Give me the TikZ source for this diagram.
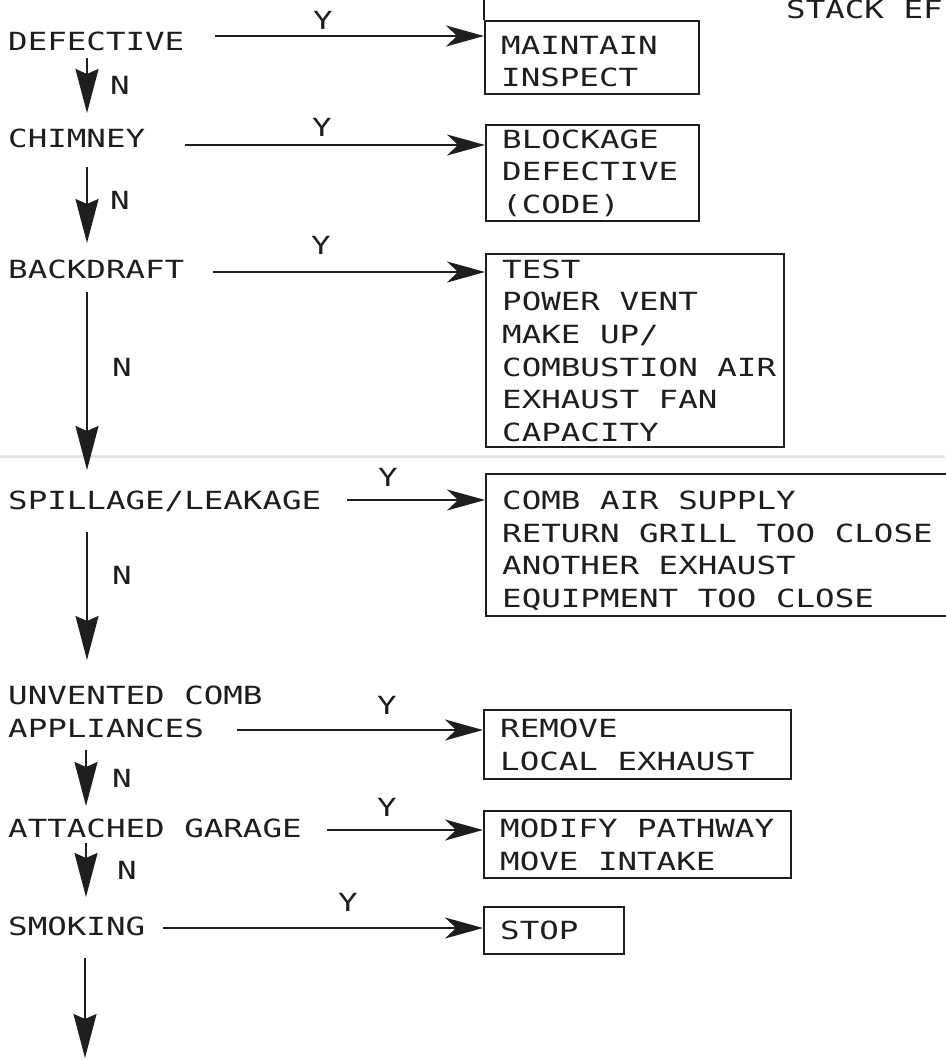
\documentclass[tikz,border=0pt]{standalone}
\usepackage{fontspec}
\newfontfamily\plotfont[FakeStretch=1.3]{DejaVu Sans Mono}
\usetikzlibrary{arrows.meta}
\definecolor{ink}{HTML}{1E1E1E}
\newcommand\bxl[1]{\mbox{\spaceskip=0pt\xspaceskip=0pt\relax #1}}
\begin{document}
\begin{tikzpicture}[x=1pt,y=-1pt,
  lbl/.style={font=\plotfont\fontsize{25}{32.7}\selectfont, inner sep=0pt, text=ink},
  cond/.style={lbl, anchor=base west, align=left},
  yn/.style={lbl, anchor=center},
  boxnode/.style={lbl, draw=ink, line width=2.4pt, anchor=north west, align=left,
    inner xsep=16pt, inner ysep=0pt},
  harrow/.style={draw=ink, line width=2pt, -{Stealth[length=38pt,width=21pt,inset=11pt]}},
  varrow/.style={draw=ink, line width=2pt, -{Stealth[length=44pt,width=23pt,inset=5pt]}},
  boxline/.style={draw=ink, line width=2.4pt}
]
\useasboundingbox[fill=white] (0,0) rectangle (945,1060);
% scan artefact
\draw[black!10, line width=3pt] (0,456) -- (945,456);

% top-right text
\node[cond] (stack) at (786,18) {STACK EF};

% conditions
\node[cond] (q1) at (8,50) {DEFECTIVE};
\node[cond] (q2) at (8,147) {CHIMNEY};
\node[cond] (q3) at (8,278) {BACKDRAFT};
\node[cond] (q4) at (8,509) {SPILLAGE/LEAKAGE};
\node[lbl, anchor=south west, align=left] (q5) at (8,738) {UNVENTED COMB\\APPLIANCES};
\node[cond] (q6) at (8,837) {ATTACHED GARAGE};
\node[cond] (q7) at (8,935) {SMOKING};

% action boxes
\node[boxnode, text width=182pt, minimum height=73pt] (b1) at (484,20)
  {\rule{0pt}{26pt}\bxl{MAINTAIN}\\\bxl{INSPECT}};
\node[boxnode, text width=181pt, minimum height=96pt] (b2) at (485,124)
  {\bxl{BLOCKAGE}\\\bxl{DEFECTIVE}\\\bxl{(CODE)}};
\node[boxnode, text width=266pt, minimum height=193pt] (b3) at (485,253)
  {\bxl{TEST}\\\bxl{POWER VENT}\\\bxl{MAKE UP/}\\\bxl{COMBUSTION AIR}\\\bxl{EXHAUST FAN}\\\bxl{CAPACITY}};
\node[boxnode, text width=488pt, minimum height=142pt] (b4) at (485,473)
  {\rule{0pt}{30pt}\bxl{COMB AIR SUPPLY}\\\bxl{RETURN GRILL TOO CLOSE}\\\bxl{ANOTHER EXHAUST}\\\bxl{EQUIPMENT TOO CLOSE}};
\node[boxnode, text width=275pt, minimum height=69pt] (b5) at (483,709)
  {\bxl{REMOVE}\\\bxl{LOCAL EXHAUST}};
\node[boxnode, text width=275pt, minimum height=67pt] (b6) at (483,810)
  {\bxl{MODIFY PATHWAY}\\\bxl{MOVE INTAKE}};
\node[boxnode, text width=108pt, minimum height=47pt] (b7) at (483,906) {\bxl{STOP}};
\draw[boxline] (b1.north west) -- ++(0,-22);

% Y branches
\coordinate (s1) at (215,36);
\coordinate (s2) at (185,145);
\coordinate (s3) at (213,272);
\coordinate (s4) at (347,500);
\coordinate (s5) at (237,730);
\coordinate (s6) at (327,830);
\coordinate (s7) at (163,928);
\draw[harrow] (s1) -- (s1 -| b1.west);
\draw[harrow] (s2) -- (s2 -| b2.west);
\draw[harrow] (s3) -- (s3 -| b3.west);
\draw[harrow] (s4) -- (s4 -| b4.west);
\draw[harrow] (s5) -- (s5 -| b5.west);
\draw[harrow] (s6) -- (s6 -| b6.west);
\draw[harrow] (s7) -- (s7 -| b7.west);
\node[yn] (y1) at (323,20) {Y};
\node[yn] (y2) at (322,127) {Y};
\node[yn] (y3) at (321,245) {Y};
\node[yn] (y4) at (388,477) {Y};
\node[yn] (y5) at (387,705) {Y};
\node[yn] (y6) at (387,807) {Y};
\node[yn] (y7) at (348,902) {Y};

% N branches
\coordinate (v1a) at (87,58);  \coordinate (v1b) at (87,113);
\coordinate (v2a) at (87,167); \coordinate (v2b) at (87,243);
\coordinate (v3a) at (87,292); \coordinate (v3b) at (87,470);
\coordinate (v4a) at (87,532); \coordinate (v4b) at (87,660);
\coordinate (v5a) at (86,750); \coordinate (v5b) at (86,806);
\coordinate (v6a) at (86,843); \coordinate (v6b) at (86,897);
\coordinate (v7a) at (85,958); \coordinate (v7b) at (85,1058);
\draw[varrow] (v1a) -- (v1b);
\draw[varrow] (v2a) -- (v2b);
\draw[varrow] (v3a) -- (v3b);
\draw[varrow] (v4a) -- (v4b);
\draw[varrow] (v5a) -- (v5b);
\draw[varrow] (v6a) -- (v6b);
\draw[varrow] (v7a) -- (v7b);
\node[yn] (n1) at (120,85) {N};
\node[yn] (n2) at (120,200) {N};
\node[yn] (n3) at (122,367) {N};
\node[yn] (n4) at (122,575) {N};
\node[yn] (n5) at (122,778) {N};
\node[yn] (n6) at (127,870) {N};
\end{tikzpicture}
\end{document}
